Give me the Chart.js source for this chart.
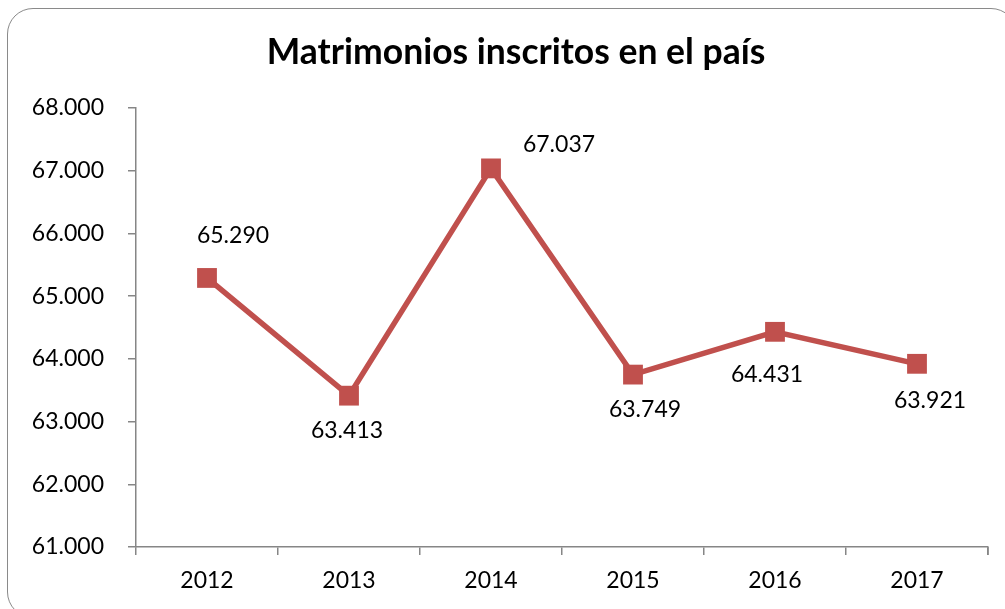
<!DOCTYPE html>
<html>
<head>
<meta charset="utf-8">
<script src="https://cdn.jsdelivr.net/npm/chart.js@4.4.1/dist/chart.umd.min.js"></script>
<style>
  html, body { margin: 0; padding: 0; background: #ffffff; overflow: hidden; }
  #wrap { position: relative; width: 1005px; height: 609px; }
  #frame { position: absolute; left: 7px; top: 8px; width: 1010px; height: 610px;
           border: 1.5px solid #8a8a8a; border-radius: 26px; box-sizing: border-box; }
  canvas { position: absolute; left: 0; top: 0; }
</style>
</head>
<body>
<div id="wrap">
  <div id="frame"></div>
  <canvas id="c" width="1005" height="609"></canvas>
</div>
<script>
// ---- data ----
const chartTitle = 'Matrimonios inscritos en el país';
const years = ['2012', '2013', '2014', '2015', '2016', '2017'];
const matrimonios = [65290, 63413, 67037, 63749, 64431, 63921];
const yMin = 61000;
const yMax = 68000;
const yStep = 1000;

// label placement offsets (style only), in px relative to each marker
const labelDX = [26, -2, 68, 12, -8, 13];
const labelDY = [-42, 35, -24, 35, 43, 37];

const FONT = 'Lato, "Open Sans", sans-serif';
const RED = '#C0504D';
const AXIS = '#868686';

function fmt(v) {
  return v.toLocaleString('de-DE');
}

const titlePlugin = {
  id: 'customTitle',
  afterDraw(chart) {
    const ctx = chart.ctx;
    ctx.save();
    ctx.font = 'bold 35.5px ' + FONT;
    ctx.fillStyle = '#000000';
    ctx.textAlign = 'center';
    ctx.textBaseline = 'alphabetic';
    ctx.fillText(chartTitle, 516, 64);
    ctx.restore();
  }
};

const labelPlugin = {
  id: 'pointLabels',
  afterDatasetsDraw(chart) {
    const ctx = chart.ctx;
    const meta = chart.getDatasetMeta(0);
    ctx.save();
    ctx.font = '23px ' + FONT;
    ctx.fillStyle = '#000000';
    ctx.textAlign = 'center';
    ctx.textBaseline = 'middle';
    meta.data.forEach((pt, i) => {
      ctx.fillText(fmt(chart.data.datasets[0].data[i]), pt.x + labelDX[i], pt.y + labelDY[i]);
    });
    ctx.restore();
  }
};

// closing tick at the right end of the category axis
const endTickPlugin = {
  id: 'endTick',
  afterDraw(chart) {
    const x = chart.scales.x;
    const ctx = chart.ctx;
    ctx.save();
    ctx.strokeStyle = AXIS;
    ctx.lineWidth = 1.5;
    ctx.beginPath();
    ctx.moveTo(x.right, x.top);
    ctx.lineTo(x.right, x.top + 8);
    ctx.stroke();
    ctx.restore();
  }
};

new Chart(document.getElementById('c'), {
  type: 'line',
  data: {
    labels: years,
    datasets: [{
      data: matrimonios,
      borderColor: RED,
      backgroundColor: RED,
      borderWidth: 5.5,
      pointStyle: 'rect',
      pointRadius: 14,
      pointHoverRadius: 14,
      pointBackgroundColor: RED,
      pointBorderColor: RED,
      pointBorderWidth: 0,
      tension: 0,
      fill: false
    }]
  },
  options: {
    responsive: false,
    animation: false,
    devicePixelRatio: 1,
    layout: { padding: { left: 8, right: 17, top: 108, bottom: 0 } },
    plugins: {
      legend: { display: false },
      tooltip: { enabled: false },
      title: { display: false }
    },
    scales: {
      x: {
        offset: true,
        afterFit(scale) { scale.height = 62; },
        grid: {
          offset: true,
          drawOnChartArea: false,
          drawTicks: true,
          tickLength: 8,
          color: AXIS,
          lineWidth: 1.5
        },
        border: { display: true, color: AXIS, width: 1.5 },
        ticks: {
          color: '#000000',
          font: { family: FONT, size: 23 },
          padding: 12,
          maxRotation: 0
        }
      },
      y: {
        min: yMin,
        max: yMax,
        afterFit(scale) { scale.width = 128; },
        grid: {
          drawOnChartArea: false,
          drawTicks: true,
          tickLength: 8,
          color: AXIS,
          lineWidth: 1.5
        },
        border: { display: true, color: AXIS, width: 1.5 },
        ticks: {
          stepSize: yStep,
          color: '#000000',
          font: { family: FONT, size: 23 },
          padding: 24,
          callback: (v) => fmt(v)
        }
      }
    }
  },
  plugins: [labelPlugin, endTickPlugin, titlePlugin]
});
</script>
</body>
</html>
